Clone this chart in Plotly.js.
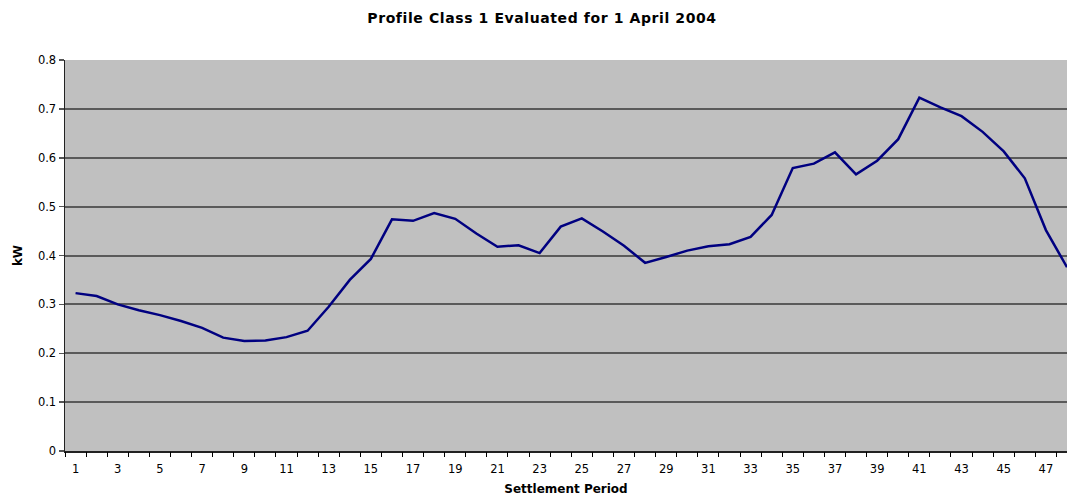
<!DOCTYPE html>
<html>
<head>
<meta charset="utf-8">
<script src="https://cdn.plot.ly/plotly-3.0.1.min.js"></script>
<style>
html,body{margin:0;padding:0;background:#fff;}
#chart{width:1067px;height:496px;}
#chart .gtitle{letter-spacing:0.6px;}
</style>
</head>
<body>
<div id="chart"></div>
<script>
const periods = Array.from({length: 48}, (_, i) => i + 1);
const kw = [
  0.323, 0.317, 0.300, 0.288, 0.278, 0.266, 0.252, 0.232, 0.225, 0.226,
  0.233, 0.246, 0.295, 0.350, 0.393, 0.474, 0.471, 0.487, 0.475, 0.445,
  0.418, 0.421, 0.405, 0.459, 0.476, 0.449, 0.420, 0.385, 0.397, 0.410,
  0.419, 0.423, 0.438, 0.483, 0.579, 0.588, 0.611, 0.566, 0.594, 0.638,
  0.723, 0.703, 0.685, 0.653, 0.613, 0.558, 0.452, 0.376
];
const xLabelVals = periods.filter(p => p % 2 === 1);
const xLabelText = xLabelVals.map(String);
const boundaryVals = Array.from({length: 49}, (_, i) => i + 0.5);

const font = "DejaVu Sans, Verdana, sans-serif";

const traces = [
  {
    x: periods, y: kw, type: 'scatter', mode: 'lines',
    line: {color: '#000080', width: 2.5},
    xaxis: 'x', yaxis: 'y', hoverinfo: 'skip', showlegend: false
  },
  {
    x: [], y: [], type: 'scatter', mode: 'lines',
    xaxis: 'x2', yaxis: 'y', showlegend: false, hoverinfo: 'skip'
  }
];

const layout = {
  width: 1067, height: 496,
  margin: {l: 65, r: 0, t: 60, b: 45},
  paper_bgcolor: '#ffffff',
  plot_bgcolor: '#c0c0c0',
  font: {family: font, size: 11.5, color: '#000'},
  showlegend: false,
  title: {
    text: '<b>Profile Class 1 Evaluated for 1 April 2004</b>',
    font: {family: font, size: 14, color: '#000'},
    x: 542 / 1067, xanchor: 'center', xref: 'container',
    y: 1 - 18 / 496, yanchor: 'middle', yref: 'container'
  },
  xaxis: {
    range: [0.5, 48],
    tickmode: 'array', tickvals: xLabelVals, ticktext: xLabelText,
    ticks: 'outside', ticklen: 7, tickcolor: 'rgba(0,0,0,0)',
    showgrid: false, zeroline: false,
    showline: true, linecolor: '#222', linewidth: 1.5,
    tickfont: {family: font, size: 11.5, color: '#000'},
    title: {text: '<b>Settlement Period</b>', font: {family: font, size: 12, color: '#000'}, standoff: 10},
    fixedrange: true
  },
  xaxis2: {
    overlaying: 'x', matches: 'x', anchor: 'y',
    range: [0.5, 48],
    tickmode: 'array', tickvals: boundaryVals,
    ticks: 'outside', ticklen: 5, tickwidth: 1, tickcolor: '#000',
    showticklabels: false, showgrid: false, zeroline: false, showline: false,
    fixedrange: true
  },
  yaxis: {
    range: [0, 0.8], dtick: 0.1, tick0: 0,
    ticks: 'outside', ticklen: 5, tickwidth: 1.5, tickcolor: '#555',
    showgrid: true, gridcolor: '#5a5a5a', gridwidth: 2,
    zeroline: false,
    showline: true, linecolor: '#222', linewidth: 1.5,
    tickfont: {family: font, size: 11.5, color: '#000'},
    title: {text: '<b>kW</b>', font: {family: font, size: 12, color: '#000'}, standoff: 12},
    fixedrange: true
  }
};

Plotly.newPlot('chart', traces, layout, {displayModeBar: false, staticPlot: true});
</script>
</body>
</html>
